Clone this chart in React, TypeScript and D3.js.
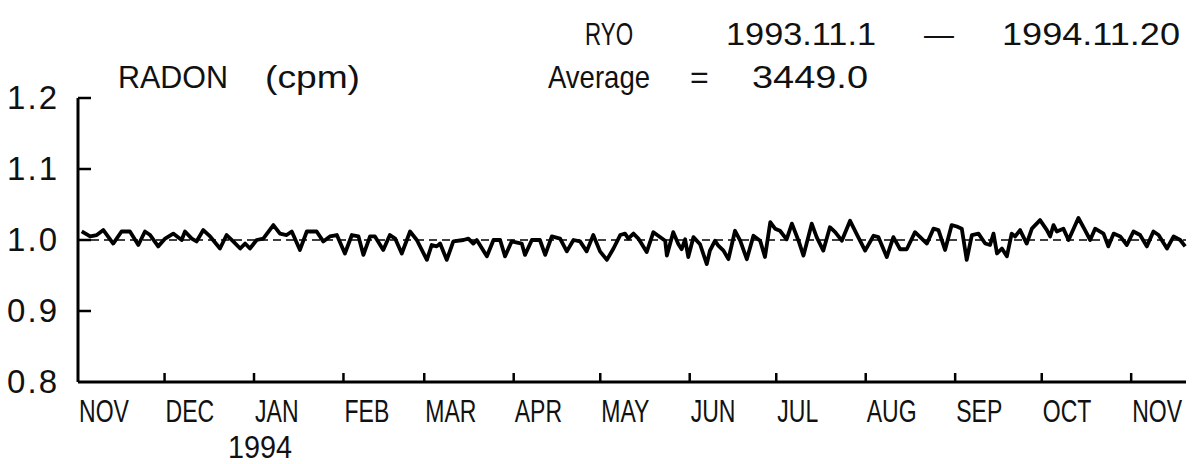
import React from 'react'
import * as d3 from 'd3'

// normalised radon counts (value / average)
const radonDays = [
  1.3, 4.2, 6.5, 8.8, 12.2, 15.1, 18.0, 20.9, 23.2, 25.0, 27.8, 30.2, 33.0, 35.9, 37.1, 39.4, 41.1, 43.4, 45.8, 49.2,
  51.5, 53.8, 56.2, 57.9, 59.6, 61.9, 64.2, 67.7, 70.0, 72.3, 74.1, 76.9, 79.3, 82.7, 85.0, 87.3, 89.7, 92.5, 94.9, 97.2,
  98.9, 101.2, 102.9, 105.8, 108.1, 109.9, 112.2, 115.1, 117.4, 120.9, 122.6, 124.3, 125.5, 127.8, 130.1, 133.6, 135.3,
  137.0, 138.2, 141.7, 144.0, 146.3, 148.0, 150.3, 153.8, 154.9, 157.3, 160.1, 161.9, 164.2, 167.1, 169.4, 171.7, 174.0,
  176.3, 178.6, 180.9, 183.3, 185.6, 187.9, 189.6, 190.7, 192.5, 194.2,
  197.1, 199.4, 201.1, 203.5, 204.1, 206.3, 208.1, 209.2, 210.4, 211.5, 213.3, 215.6, 217.9, 219.0, 220.8, 221.9, 223.7,
  225.4, 227.7, 229.5, 231.8, 234.1, 236.4, 238.1, 239.9, 241.6, 243.3, 245.6, 247.4, 249.7, 251.4, 254.3, 256.0, 258.3,
  260.6, 262.4, 264.7, 267.6, 269.9, 272.8, 275.7, 277.4, 280.3, 282.6, 284.9, 287.2, 290.1,
  294.2, 296.5, 298.2, 300.5, 302.8, 304.6, 306.3, 308.0, 309.8, 312.1, 314.4, 316.1, 317.3, 318.5, 320.2, 321.9, 323.6,
  324.8, 326.5, 328.8, 330.6, 333.4, 335.8, 336.9, 338.1, 339.2, 341.5, 343.3, 346.7, 349.0, 350.8, 352.5, 355.4, 357.1,
  358.9, 361.2, 363.5, 365.8, 368.1, 370.4, 372.7, 374.5, 377.4, 379.7, 382.0, 383.7,
]
const radonValues = [
  1.012, 1.005, 1.007, 1.014, 0.995, 1.012, 1.012, 0.993, 1.012, 1.007, 0.991, 1.002, 1.009, 1.0, 1.012, 1.002, 0.998, 1.014, 1.005, 0.988,
  1.007, 0.998, 0.988, 0.995, 0.988, 1.0, 1.002, 1.021, 1.009, 1.007, 1.012, 0.986, 1.012, 1.012, 0.998, 1.005, 1.007, 0.981, 1.007, 1.005,
  0.979, 1.005, 1.005, 0.986, 1.007, 1.002, 0.981, 1.012, 1.0, 0.972, 0.993, 0.991, 0.995, 0.972, 0.998, 1.0, 1.002,
  0.995, 1.0, 0.977, 1.0, 1.0, 0.977, 0.998, 0.995, 0.979, 1.0, 1.0, 0.979, 1.005, 1.002, 0.984, 1.0, 0.998,
  0.984, 1.007, 0.984, 0.972, 0.988, 1.007, 1.009, 1.002, 1.009, 1.002,
  0.983, 1.011, 1.006, 0.999, 0.978, 1.011, 0.994, 0.987, 1.001, 0.976, 1.004, 0.994, 0.966, 0.985, 0.999, 0.992, 0.985,
  0.973, 1.013, 0.999, 0.973, 1.006, 0.999, 0.976, 1.025, 1.016, 1.013, 1.001, 1.023, 0.999, 0.978, 1.023, 1.004, 0.985,
  1.018, 1.011, 0.999, 1.027, 1.008, 0.985, 1.006, 1.004, 0.976, 1.004, 0.987, 0.987, 1.011,
  0.995, 1.016, 1.014, 0.986, 1.021, 1.019, 1.016, 0.972, 1.007, 1.009, 0.995, 0.993, 1.009, 0.981, 0.988, 0.977, 1.009,
  1.005, 1.014, 0.995, 1.016, 1.028, 1.014, 1.005, 1.021, 1.012, 1.016, 1.0, 1.031, 1.014, 1.0, 1.016, 1.009, 0.991,
  1.009, 1.005, 0.993, 1.012, 1.007, 0.991, 1.012, 1.007, 0.988, 1.005, 1.0, 0.991,
]
const yTicks = [0.8, 0.9, 1.0, 1.1, 1.2]
const startDate = new Date(1993, 10, 1)
const endDate = new Date(1994, 10, 20)
const averageCpm = 3449.0
const station = 'RYO'

const FONT = '"Liberation Sans", Arial, sans-serif'

// plotter lettering: capitals are narrow, so squeeze the glyphs horizontally
function Label({ x, y, sx = 1, children, anchor }: { x: number; y: number; sx?: number; children: any; anchor?: string }) {
  return (
    <text transform={`translate(${x},${y}) scale(${sx},1)`} textAnchor={anchor}>{children}</text>
  )
}

export default function App() {
  const x = d3.scaleTime().domain([startDate, endDate]).range([78, 1186])
  const y = d3.scaleLinear().domain([0.8, 1.2]).range([382, 98])
  const pts = radonDays.map((d, i) => ({ date: d3.timeHour.offset(startDate, Math.round(d * 24)), v: radonValues[i] }))
  const line = d3.line<{ date: Date; v: number }>().x(d => x(d.date)).y(d => y(d.v))
  const months = x.ticks(d3.timeMonth.every(1)!)
  const fmt = d3.timeFormat('%b')
  const fmtDate = d3.timeFormat('%Y.%-m.%-d')

  return (
    <svg width={1195} height={464} style={{ position: 'absolute', left: 0, top: 0, background: '#fff' }}
      fontFamily={FONT} fontSize={32} fill="#111" stroke="none">
      {/* titles */}
      <Label x={585} y={45} sx={0.7}>{station}</Label>
      <text x={726} y={45} textLength={150} lengthAdjust="spacingAndGlyphs">{fmtDate(startDate)}</text>
      <text x={924} y={45} textLength={30} lengthAdjust="spacingAndGlyphs">–</text>
      <text x={1002} y={45} textLength={178} lengthAdjust="spacingAndGlyphs">{fmtDate(endDate)}</text>
      <text x={118} y={88} textLength={110} lengthAdjust="spacingAndGlyphs">RADON</text>
      <text x={265} y={88} textLength={95} lengthAdjust="spacingAndGlyphs">(cpm)</text>
      <text x={548} y={88} textLength={102} lengthAdjust="spacingAndGlyphs">Average</text>
      <text x={690} y={88}>=</text>
      <text x={752} y={88} textLength={116} lengthAdjust="spacingAndGlyphs">{averageCpm.toFixed(1)}</text>

      {/* y axis */}
      <line x1={78} x2={78} y1={y(1.2)} y2={y(0.8)} stroke="#000" strokeWidth={3} />
      {yTicks.map(t => (
        <g key={t}>
          {t > 0.8 && <line x1={78} x2={91} y1={y(t)} y2={y(t)} stroke="#000" strokeWidth={2.5} />}
          <text x={57} y={y(t) + 11} textAnchor="end" fontSize={33} textLength={50} lengthAdjust="spacing">{t.toFixed(1)}</text>
        </g>
      ))}

      {/* x axis */}
      <line x1={78} x2={x(endDate)} y1={382} y2={382} stroke="#000" strokeWidth={3} />
      {months.map((m, i) => (
        <g key={i}>
          {i > 0 && <line x1={x(m)} x2={x(m)} y1={382} y2={373} stroke="#000" strokeWidth={2.5} />}
          <Label x={x(m) + 1} y={422} sx={0.72}>{fmt(m).toUpperCase()}</Label>
        </g>
      ))}
      <text x={228} y={458} textLength={64} lengthAdjust="spacingAndGlyphs">1994</text>

      {/* average line and series */}
      <line x1={78} x2={x(endDate)} y1={y(1)} y2={y(1)} stroke="#000" strokeWidth={1.5} strokeDasharray="8,5" />
      <path d={line(pts) || ''} fill="none" stroke="#000" strokeWidth={3.8} strokeLinejoin="round" />
    </svg>
  )
}
